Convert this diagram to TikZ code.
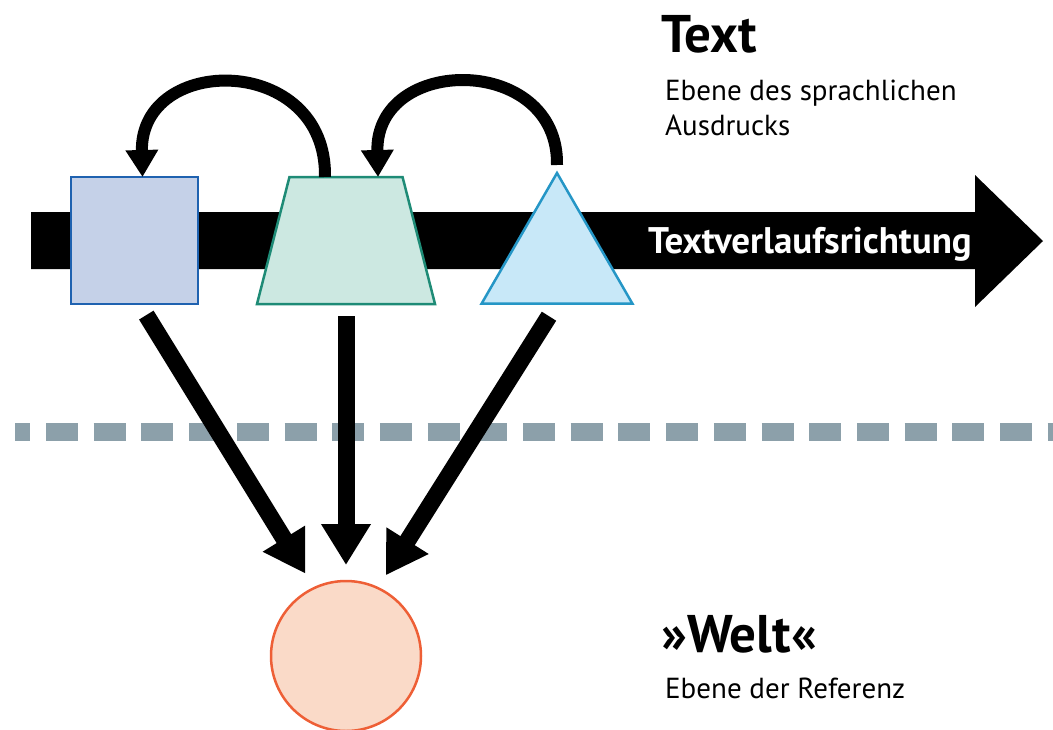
\documentclass[tikz,border=0pt]{standalone}
\usepackage{fontspec}
\setmainfont{PT Sans}
\usetikzlibrary{arrows.meta,shapes.geometric}

\definecolor{wordfill}{HTML}{C5D1E8}
\definecolor{wordline}{HTML}{1F62B0}
\definecolor{phrasefill}{HTML}{CCE8E1}
\definecolor{phraseline}{HTML}{1E8B76}
\definecolor{signfill}{HTML}{C8E8F8}
\definecolor{signline}{HTML}{2596C6}
\definecolor{worldfill}{HTML}{FADAC8}
\definecolor{worldline}{HTML}{EE5F36}
\definecolor{levelgray}{HTML}{8CA0AA}

\tikzset{
  form/.style={line width=2.5pt, inner sep=0pt, outer sep=0pt},
  hop/.style={line width=12pt, -{Triangle[width=31pt,length=27pt]}},
  refer/.style={line width=17pt, -{Triangle[width=47pt,length=41pt]}},
  heading/.style={anchor=base west, inner sep=0pt, font=\fontsize{53}{53}\selectfont\bfseries},
  caption/.style={anchor=base west, inner sep=0pt, font=\fontsize{29}{35}\selectfont},
}

\begin{document}
\begin{tikzpicture}[x=1pt, y=-1pt]
\useasboundingbox (0,0) rectangle (1053,729);

% border between the two levels
\draw [levelgray, line width=18pt, dash pattern=on 32pt off 15.7pt, dash phase=16.7pt]
  (15,432) -- (1053,432);

% reading direction
\fill (31,212) -- (975,212) -- (975,175) -- (1043,241) -- (975,307) -- (975,269) -- (31,269) -- cycle;
\node [anchor=base west, inner sep=0pt, text=white, font=\fontsize{37}{37}\selectfont\bfseries]
  (dir) at (648,253) {Textverlaufsrichtung};

% the three expressions and the world
\node [form, draw=wordline, fill=wordfill, rectangle, minimum size=127pt] (word) at (134.5,240.5) {};
\node [form, draw=phraseline, fill=phrasefill, trapezium, trapezium left angle=74,
  trapezium right angle=74, trapezium stretches=true, inner sep=1pt,
  minimum width=178pt, minimum height=127pt] (phrase) at (346,240.5) {};
\node [form, draw=signline, fill=signfill, regular polygon, regular polygon sides=3,
  minimum size=174pt] (sign) at (557,260) {};
\node [form, draw=worldline, fill=worldfill, circle, minimum size=150pt] (world) at (346,656) {};

% back references
\draw [hop] ([xshift=-21pt]phrase.north) .. controls +(2,-124) and +(-3,-124) .. ([xshift=8pt]word.north);
\draw [hop] ([yshift=8pt]sign.north) .. controls +(2,-111) and +(-3,-123) .. ([xshift=32pt]phrase.north);

% reference to the world
\draw [refer, shorten <=13pt, shorten >=17pt] ([xshift=5pt]word.south) -- (world.115);
\draw [refer, shorten <=12pt, shorten >=16pt] (phrase.south) -- (world.north);
\draw [refer, shorten <=15pt, shorten >=15pt] (sign.south) -- (world.65);

% levels
\node [heading] (text) at (661,52) {Text};
\node [caption, align=left] (textlevel) at (665,135) {Ebene des sprachlichen\\Ausdrucks};
\node [heading] (welt) at (661,652) {»Welt«};
\node [caption] (weltlevel) at (665,698) {Ebene der Referenz};
\end{tikzpicture}
\end{document}
